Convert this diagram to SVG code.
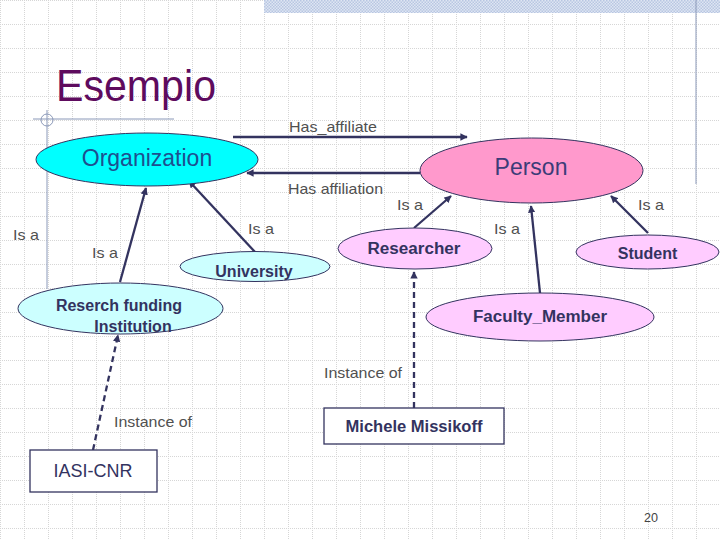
<svg xmlns="http://www.w3.org/2000/svg" width="720" height="540" viewBox="0 0 720 540">
<defs>
<pattern id="grid" width="24" height="24" patternUnits="userSpaceOnUse">
<path d="M0 0.5H24M0.5 0V24" fill="none" stroke="#d6d6d6" stroke-width="1" stroke-dasharray="1 1"/>
</pattern>
<pattern id="hatch" width="3" height="3" patternUnits="userSpaceOnUse">
<rect width="3" height="3" fill="#dfe6f3"/>
<rect width="1.5" height="1.5" fill="#b8c6e2"/>
<rect x="1.5" y="1.5" width="1.5" height="1.5" fill="#b8c6e2"/>
</pattern>
<marker id="ah" viewBox="0 0 10 10" refX="9" refY="5" markerWidth="3.2" markerHeight="3.2" orient="auto" markerUnits="strokeWidth">
<path d="M0 0L10 5L0 10z" fill="#33335f"/>
</marker>
<style>
.lbl{font-family:"Liberation Sans",Arial,sans-serif;font-size:15px;fill:#505050}
.nt{font-family:"Liberation Sans",Arial,sans-serif;font-weight:bold;font-size:16px;fill:#33335f;text-anchor:middle}
.con{fill:none;stroke:#33335f;stroke-width:2.3}
.dash{stroke-dasharray:6 4}
.box{fill:#ffffff;stroke:#33335f;stroke-width:1.3}
.ell{stroke:#33335f;stroke-width:1}
.deco{fill:none;stroke:#8a98b8;stroke-width:1}
</style>
</defs>
<rect width="720" height="540" fill="#ffffff"/>
<rect width="720" height="540" fill="url(#grid)"/>
<rect x="264" y="0" width="456" height="13" fill="url(#hatch)"/>
<line class="deco" x1="696" y1="0" x2="696" y2="184"/>
<line class="deco" x1="33" y1="119" x2="174" y2="119"/>
<line class="deco" x1="47" y1="110" x2="47" y2="289"/>
<circle class="deco" cx="47" cy="120" r="6"/>
<text x="56" y="101" font-family="'Liberation Sans',Arial,sans-serif" font-size="44" fill="#5e0b5e" textLength="160" lengthAdjust="spacingAndGlyphs">Esempio</text>

<g id="connectors">
<line class="con" x1="233" y1="137" x2="467" y2="137" marker-end="url(#ah)"/>
<line class="con" x1="420" y1="173" x2="247" y2="173" marker-end="url(#ah)"/>
<line class="con" x1="120" y1="282" x2="146" y2="188" marker-end="url(#ah)"/>
<line class="con" x1="255" y1="252" x2="189" y2="181" marker-end="url(#ah)"/>
<line class="con" x1="414" y1="228" x2="451" y2="196" marker-end="url(#ah)"/>
<line class="con" x1="540" y1="293" x2="531" y2="206" marker-end="url(#ah)"/>
<line class="con" x1="648" y1="233" x2="611" y2="196" marker-end="url(#ah)"/>
<line class="con dash" x1="414" y1="408" x2="414" y2="272" marker-end="url(#ah)"/>
<line class="con dash" x1="93" y1="450" x2="118" y2="335" marker-end="url(#ah)"/>
<text class="lbl" x="289" y="132" textLength="88" lengthAdjust="spacingAndGlyphs">Has_affiliate</text>
<text class="lbl" x="288" y="194" textLength="95" lengthAdjust="spacingAndGlyphs">Has affiliation</text>
<text class="lbl" x="13" y="240" textLength="26" lengthAdjust="spacingAndGlyphs">Is a</text>
<text class="lbl" x="92" y="258" textLength="26" lengthAdjust="spacingAndGlyphs">Is a</text>
<text class="lbl" x="248" y="234" textLength="26" lengthAdjust="spacingAndGlyphs">Is a</text>
<text class="lbl" x="397" y="210" textLength="26" lengthAdjust="spacingAndGlyphs">Is a</text>
<text class="lbl" x="494" y="234" textLength="26" lengthAdjust="spacingAndGlyphs">Is a</text>
<text class="lbl" x="638" y="210" textLength="26" lengthAdjust="spacingAndGlyphs">Is a</text>
<text class="lbl" x="324" y="378" textLength="78" lengthAdjust="spacingAndGlyphs">Instance of</text>
<text class="lbl" x="114" y="427" textLength="78" lengthAdjust="spacingAndGlyphs">Instance of</text>
</g>

<g id="organization">
<ellipse class="ell" cx="147" cy="159.5" rx="111" ry="26.5" fill="#00ffff" stroke="#2a5f86"/>
<text x="147" y="166" font-family="'Liberation Sans',Arial,sans-serif" font-size="23" fill="#1e4f8f" text-anchor="middle">Organization</text>
</g>
<g id="person">
<ellipse class="ell" cx="531.5" cy="170.5" rx="111.5" ry="32.5" fill="#ff99cc"/>
<text x="531" y="175" font-family="'Liberation Sans',Arial,sans-serif" font-size="23" fill="#3c3c78" text-anchor="middle">Person</text>
</g>
<g id="university">
<ellipse class="ell" cx="255" cy="266.5" rx="75" ry="15" fill="#ccffff"/>
<text class="nt" x="254" y="277">University</text>
</g>
<g id="research-funding">
<ellipse class="ell" cx="120.5" cy="308.5" rx="102.5" ry="25.5" fill="#ccffff"/>
<text class="nt" x="119" y="311">Reserch funding</text>
<text class="nt" x="133" y="332">Institution</text>
</g>
<g id="researcher">
<ellipse class="ell" cx="415" cy="248.5" rx="77" ry="20.5" fill="#ffccff"/>
<text class="nt" x="414" y="254" textLength="93" lengthAdjust="spacingAndGlyphs">Researcher</text>
</g>
<g id="student">
<ellipse class="ell" cx="647.5" cy="252" rx="71.5" ry="17" fill="#ffccff"/>
<text class="nt" x="647.5" y="259">Student</text>
</g>
<g id="faculty-member">
<ellipse class="ell" cx="540" cy="317" rx="114" ry="24" fill="#ffccff"/>
<text class="nt" x="540" y="322" textLength="134" lengthAdjust="spacingAndGlyphs">Faculty_Member</text>
</g>
<g id="michele">
<rect class="box" x="324" y="408" width="180" height="36"/>
<text class="nt" x="414" y="432" textLength="137" lengthAdjust="spacingAndGlyphs">Michele Missikoff</text>
</g>
<g id="iasi">
<rect class="box" x="30" y="450" width="127" height="42"/>
<text x="93" y="477" font-family="'Liberation Sans',Arial,sans-serif" font-size="18" fill="#33335f" text-anchor="middle">IASI-CNR</text>
</g>
<text x="651" y="522" font-family="'Liberation Sans',Arial,sans-serif" font-size="13" fill="#444" text-anchor="middle" textLength="14" lengthAdjust="spacingAndGlyphs">20</text>
</svg>
